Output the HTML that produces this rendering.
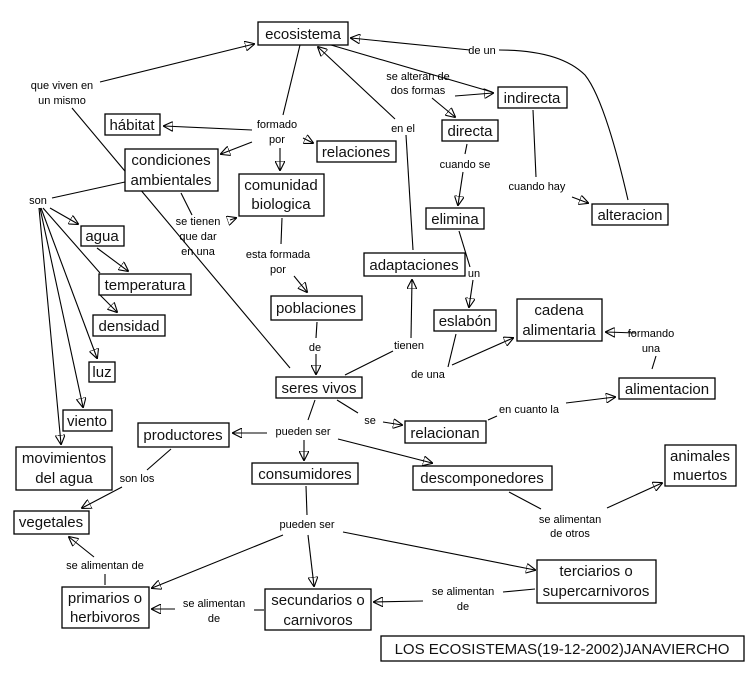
<!DOCTYPE html>
<html><head><meta charset="utf-8"><style>
body{margin:0;background:#fff}
svg{display:block}
.n{fill:#fff;stroke:#000;stroke-width:1.3}
.t{font-family:"Liberation Sans",sans-serif;font-size:15px;text-anchor:middle;fill:#111}
.l{font-family:"Liberation Sans",sans-serif;font-size:11px;text-anchor:middle;fill:#000}
line,path{stroke:#000;stroke-width:1.1;fill:none}
</style></head><body>
<svg width="755" height="681" viewBox="0 0 755 681">
<defs><marker id="a" viewBox="0 0 10 10" refX="9" refY="5" markerWidth="10" markerHeight="10" markerUnits="userSpaceOnUse" orient="auto"><path d="M0,0L10,5L0,10z" fill="#000" stroke="none"/></marker></defs>
<g>
<!-- connectors -->
<line x1="100" y1="82" x2="254" y2="44" marker-end="url(#a)"/>
<line x1="72" y1="108" x2="290" y2="368"/>
<line x1="300" y1="45" x2="283" y2="115"/>
<line x1="252" y1="130" x2="164" y2="126" marker-end="url(#a)"/>
<line x1="252" y1="142" x2="221" y2="154" marker-end="url(#a)"/>
<line x1="280" y1="148" x2="280" y2="170" marker-end="url(#a)"/>
<line x1="303" y1="138" x2="313" y2="143" marker-end="url(#a)"/>
<line x1="331" y1="45" x2="492" y2="92" />
<line x1="455" y1="96" x2="493" y2="93" marker-end="url(#a)"/>
<line x1="432" y1="98" x2="455" y2="117" marker-end="url(#a)"/>
<line x1="395" y1="119" x2="318" y2="47" marker-end="url(#a)"/>
<line x1="406" y1="135" x2="413" y2="250"/>
<path d="M499 50 Q560 50 585 75 Q605 100 628 200"/>
<line x1="470" y1="50" x2="351" y2="38" marker-end="url(#a)"/>
<line x1="467" y1="144" x2="465" y2="154"/>
<line x1="463" y1="172" x2="458" y2="205" marker-end="url(#a)"/>
<line x1="533" y1="110" x2="536" y2="177"/>
<line x1="572" y1="197" x2="588" y2="203" marker-end="url(#a)"/>
<line x1="459" y1="231" x2="470" y2="267"/>
<line x1="473" y1="280" x2="469" y2="307" marker-end="url(#a)"/>
<line x1="181" y1="193" x2="192" y2="215"/>
<line x1="230" y1="220" x2="236" y2="218" marker-end="url(#a)"/>
<line x1="125" y1="182" x2="52" y2="198"/>
<line x1="50" y1="208" x2="78" y2="224" marker-end="url(#a)"/>
<line x1="97" y1="248" x2="128" y2="271" marker-end="url(#a)"/>
<line x1="43" y1="208" x2="100" y2="273"/>
<line x1="100" y1="295" x2="117" y2="312" marker-end="url(#a)"/>
<line x1="41" y1="208" x2="97" y2="358" marker-end="url(#a)"/>
<line x1="40" y1="208" x2="83" y2="407" marker-end="url(#a)"/>
<line x1="39" y1="208" x2="61" y2="444" marker-end="url(#a)"/>
<line x1="282" y1="218" x2="281" y2="244"/>
<line x1="294" y1="276" x2="307" y2="292" marker-end="url(#a)"/>
<line x1="317" y1="322" x2="316" y2="338"/>
<line x1="316" y1="354" x2="316" y2="374" marker-end="url(#a)"/>
<line x1="345" y1="375" x2="393" y2="351"/>
<line x1="411" y1="338" x2="412" y2="280" marker-end="url(#a)"/>
<line x1="448" y1="367" x2="456" y2="334"/>
<line x1="452" y1="365" x2="513" y2="338" marker-end="url(#a)"/>
<line x1="652" y1="369" x2="656" y2="356" />
<line x1="636" y1="333" x2="606" y2="332" marker-end="url(#a)"/>
<line x1="315" y1="400" x2="308" y2="420"/>
<line x1="267" y1="433" x2="233" y2="433" marker-end="url(#a)"/>
<line x1="304" y1="440" x2="304" y2="460" marker-end="url(#a)"/>
<line x1="338" y1="439" x2="432" y2="463" marker-end="url(#a)"/>
<line x1="337" y1="400" x2="358" y2="413"/>
<line x1="383" y1="422" x2="402" y2="425" marker-end="url(#a)"/>
<line x1="488" y1="420" x2="497" y2="416"/>
<line x1="566" y1="403" x2="615" y2="397" marker-end="url(#a)"/>
<line x1="171" y1="449" x2="147" y2="470"/>
<line x1="122" y1="487" x2="82" y2="508" marker-end="url(#a)"/>
<line x1="306" y1="486" x2="307" y2="515"/>
<line x1="308" y1="535" x2="314" y2="586" marker-end="url(#a)"/>
<line x1="283" y1="535" x2="152" y2="588" marker-end="url(#a)"/>
<line x1="343" y1="532" x2="535" y2="570" marker-end="url(#a)"/>
<line x1="94" y1="557" x2="69" y2="537" marker-end="url(#a)"/>
<line x1="105" y1="574" x2="105" y2="585"/>
<line x1="175" y1="609" x2="152" y2="609" marker-end="url(#a)"/>
<line x1="254" y1="610" x2="264" y2="610"/>
<line x1="509" y1="492" x2="541" y2="509"/>
<line x1="607" y1="508" x2="662" y2="483" marker-end="url(#a)"/>
<line x1="503" y1="592" x2="535" y2="589"/>
<line x1="423" y1="601" x2="374" y2="602" marker-end="url(#a)"/>
</g>
<!-- nodes -->
<g>
<rect class="n" x="258" y="22" width="90" height="23"/><text class="t" x="303" y="39">ecosistema</text>
<rect class="n" x="105" y="114" width="55" height="21"/><text class="t" x="132" y="130">hábitat</text>
<rect class="n" x="317" y="141" width="79" height="21"/><text class="t" x="356" y="157">relaciones</text>
<rect class="n" x="125" y="149" width="93" height="42"/><text class="t" x="171" y="165">condiciones</text><text class="t" x="171" y="185">ambientales</text>
<rect class="n" x="239" y="174" width="85" height="42"/><text class="t" x="281" y="190">comunidad</text><text class="t" x="281" y="209">biologica</text>
<rect class="n" x="81" y="226" width="43" height="20"/><text class="t" x="102" y="241">agua</text>
<rect class="n" x="99" y="274" width="92" height="21"/><text class="t" x="145" y="290">temperatura</text>
<rect class="n" x="93" y="315" width="72" height="21"/><text class="t" x="129" y="331">densidad</text>
<rect class="n" x="271" y="296" width="91" height="24"/><text class="t" x="316" y="313">poblaciones</text>
<rect class="n" x="276" y="377" width="86" height="21"/><text class="t" x="319" y="393">seres vivos</text>
<rect class="n" x="89" y="362" width="26" height="20"/><text class="t" x="102" y="377">luz</text>
<rect class="n" x="63" y="410" width="49" height="21"/><text class="t" x="87" y="426">viento</text>
<rect class="n" x="16" y="447" width="96" height="43"/><text class="t" x="64" y="463">movimientos</text><text class="t" x="64" y="483">del agua</text>
<rect class="n" x="138" y="423" width="91" height="24"/><text class="t" x="183" y="440">productores</text>
<rect class="n" x="14" y="511" width="75" height="23"/><text class="t" x="51" y="527">vegetales</text>
<rect class="n" x="252" y="463" width="106" height="21"/><text class="t" x="305" y="479">consumidores</text>
<rect class="n" x="62" y="587" width="87" height="41"/><text class="t" x="105" y="603">primarios o</text><text class="t" x="105" y="622">herbivoros</text>
<rect class="n" x="265" y="589" width="106" height="41"/><text class="t" x="318" y="605">secundarios o</text><text class="t" x="318" y="625">carnivoros</text>
<rect class="n" x="498" y="87" width="69" height="21"/><text class="t" x="532" y="103">indirecta</text>
<rect class="n" x="442" y="120" width="56" height="21"/><text class="t" x="470" y="136">directa</text>
<rect class="n" x="426" y="208" width="58" height="21"/><text class="t" x="455" y="224">elimina</text>
<rect class="n" x="592" y="204" width="76" height="21"/><text class="t" x="630" y="220">alteracion</text>
<rect class="n" x="364" y="253" width="101" height="23"/><text class="t" x="414" y="270">adaptaciones</text>
<rect class="n" x="434" y="310" width="62" height="21"/><text class="t" x="465" y="326">eslabón</text>
<rect class="n" x="517" y="299" width="85" height="42"/><text class="t" x="559" y="315">cadena</text><text class="t" x="559" y="335">alimentaria</text>
<rect class="n" x="619" y="378" width="96" height="21"/><text class="t" x="667" y="394">alimentacion</text>
<rect class="n" x="405" y="421" width="81" height="22"/><text class="t" x="445" y="438">relacionan</text>
<rect class="n" x="413" y="466" width="139" height="24"/><text class="t" x="482" y="483">descomponedores</text>
<rect class="n" x="665" y="445" width="71" height="41"/><text class="t" x="700" y="461">animales</text><text class="t" x="700" y="480">muertos</text>
<rect class="n" x="537" y="560" width="119" height="43"/><text class="t" x="596" y="576">terciarios o</text><text class="t" x="596" y="596">supercarnivoros</text>
<rect class="n" x="381" y="636" width="363" height="25"/><text class="t" x="562" y="654">LOS ECOSISTEMAS(19-12-2002)JANAVIERCHO</text>
</g>
<!-- labels -->
<g>
<text class="l" x="62" y="89">que viven en</text><text class="l" x="62" y="104">un mismo</text>
<text class="l" x="277" y="128">formado</text><text class="l" x="277" y="143">por</text>
<text class="l" x="198" y="225">se tienen</text><text class="l" x="198" y="240">que dar</text><text class="l" x="198" y="255">en una</text>
<text class="l" x="38" y="204">son</text>
<text class="l" x="278" y="258">esta formada</text><text class="l" x="278" y="273">por</text>
<text class="l" x="482" y="54">de un</text>
<text class="l" x="418" y="80">se alteran de</text><text class="l" x="418" y="94">dos formas</text>
<text class="l" x="403" y="132">en el</text>
<text class="l" x="465" y="168">cuando se</text>
<text class="l" x="537" y="190">cuando hay</text>
<text class="l" x="474" y="277">un</text>
<text class="l" x="651" y="337">formando</text><text class="l" x="651" y="352">una</text>
<text class="l" x="409" y="349">tienen</text>
<text class="l" x="428" y="378">de una</text>
<text class="l" x="315" y="351">de</text>
<text class="l" x="370" y="424">se</text>
<text class="l" x="529" y="413">en cuanto la</text>
<text class="l" x="303" y="435">pueden ser</text>
<text class="l" x="137" y="482">son los</text>
<text class="l" x="307" y="528">pueden ser</text>
<text class="l" x="105" y="569">se alimentan de</text>
<text class="l" x="214" y="607">se alimentan</text><text class="l" x="214" y="622">de</text>
<text class="l" x="570" y="523">se alimentan</text><text class="l" x="570" y="537">de otros</text>
<text class="l" x="463" y="595">se alimentan</text><text class="l" x="463" y="610">de</text>
</g>
</svg>
</body></html>
